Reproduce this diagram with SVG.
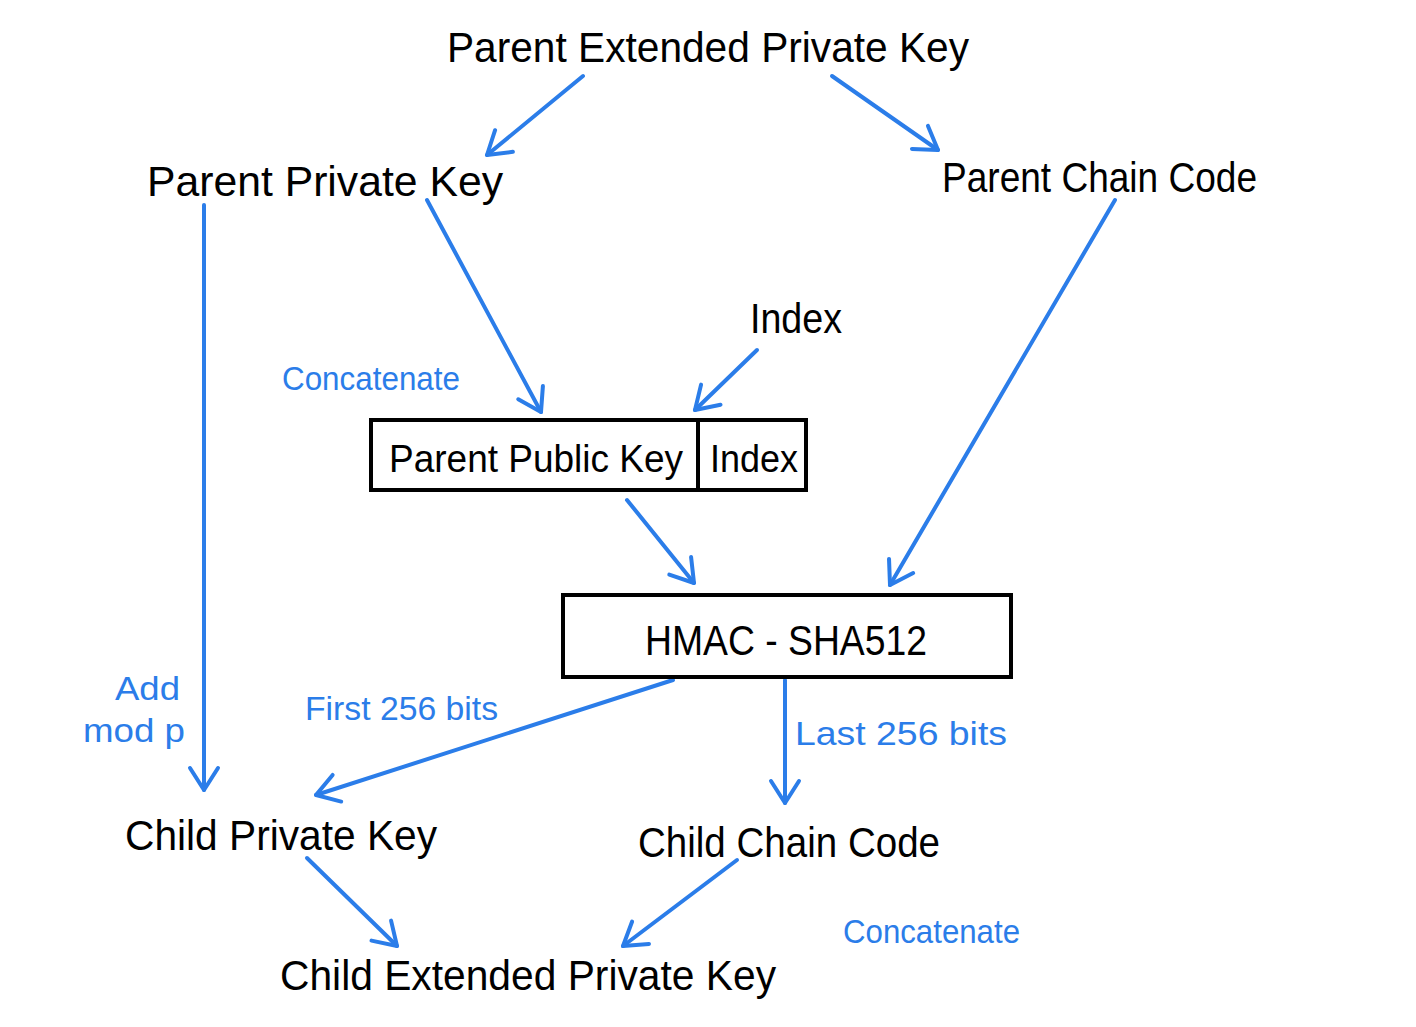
<svg xmlns="http://www.w3.org/2000/svg" width="1416" height="1027" viewBox="0 0 1416 1027">
<defs>
<style>
.t{font-family:"Liberation Sans","DejaVu Sans",sans-serif;fill:#000;font-size:42px}
.bx{font-family:"Liberation Sans","DejaVu Sans",sans-serif;fill:#000;font-size:38px}
.b{font-family:"Liberation Sans","DejaVu Sans",sans-serif;fill:#2b7de9;font-size:34px}
.box{fill:#fff;stroke:#000;stroke-width:4}
.c{stroke:#2b7de9;stroke-width:4;fill:none;stroke-linecap:round}
</style>
<marker id="ah" markerUnits="userSpaceOnUse" markerWidth="40" markerHeight="40" viewBox="-30 -20 40 40" refX="0" refY="0" orient="auto">
<path d="M-22,-14 L0,0 L-22,14" fill="none" stroke="#2b7de9" stroke-width="4" stroke-linecap="round" stroke-linejoin="round"/>
</marker>
</defs>
<rect width="1416" height="1027" fill="#fff"/>
<g id="connectors">
<line class="c" x1="583" y1="76" x2="487" y2="155" marker-end="url(#ah)"/>
<line class="c" x1="832" y1="76" x2="938" y2="150" marker-end="url(#ah)"/>
<line class="c" x1="204" y1="205" x2="204" y2="790" marker-end="url(#ah)"/>
<line class="c" x1="427" y1="200" x2="541" y2="412" marker-end="url(#ah)"/>
<line class="c" x1="757" y1="350" x2="695" y2="410" marker-end="url(#ah)"/>
<line class="c" x1="1115" y1="200" x2="890" y2="585" marker-end="url(#ah)"/>
<line class="c" x1="627" y1="500" x2="694" y2="583" marker-end="url(#ah)"/>
<line class="c" x1="673" y1="680" x2="316" y2="795" marker-end="url(#ah)"/>
<line class="c" x1="785" y1="680" x2="785" y2="803" marker-end="url(#ah)"/>
<line class="c" x1="307" y1="858" x2="397" y2="946" marker-end="url(#ah)"/>
<line class="c" x1="737" y1="860" x2="623" y2="946" marker-end="url(#ah)"/>
</g>
<g id="parent-extended-private-key"><text class="t" x="447" y="62" textLength="522" lengthAdjust="spacingAndGlyphs">Parent Extended Private Key</text></g>
<g id="parent-private-key"><text class="t" x="147" y="196" textLength="356" lengthAdjust="spacingAndGlyphs">Parent Private Key</text></g>
<g id="parent-chain-code"><text class="t" x="942" y="192" textLength="315" lengthAdjust="spacingAndGlyphs">Parent Chain Code</text></g>
<g id="index"><text class="t" x="750" y="333" textLength="92" lengthAdjust="spacingAndGlyphs">Index</text></g>
<g id="label-concatenate-1"><text class="b" x="282" y="390" textLength="178" lengthAdjust="spacingAndGlyphs">Concatenate</text></g>
<g id="concat-box">
<rect class="box" x="371" y="420" width="435" height="70"/>
<line x1="698" y1="420" x2="698" y2="490" stroke="#000" stroke-width="4"/>
<text class="bx" x="389" y="472" textLength="294" lengthAdjust="spacingAndGlyphs">Parent Public Key</text>
<text class="bx" x="710" y="472" textLength="88" lengthAdjust="spacingAndGlyphs">Index</text>
</g>
<g id="hmac-sha512">
<rect class="box" x="563" y="595" width="448" height="82"/>
<text class="t" x="645" y="655" textLength="282" lengthAdjust="spacingAndGlyphs">HMAC - SHA512</text>
</g>
<g id="label-add-mod-p">
<text class="b" x="115" y="700" textLength="65" lengthAdjust="spacingAndGlyphs">Add</text>
<text class="b" x="83" y="742" textLength="102" lengthAdjust="spacingAndGlyphs">mod p</text>
</g>
<g id="label-first"><text class="b" x="305" y="720" textLength="193" lengthAdjust="spacingAndGlyphs">First 256 bits</text></g>
<g id="label-last"><text class="b" x="795" y="745" textLength="212" lengthAdjust="spacingAndGlyphs">Last 256 bits</text></g>
<g id="child-private-key"><text class="t" x="125" y="850" textLength="312" lengthAdjust="spacingAndGlyphs">Child Private Key</text></g>
<g id="child-chain-code"><text class="t" x="638" y="857" textLength="302" lengthAdjust="spacingAndGlyphs">Child Chain Code</text></g>
<g id="label-concatenate-2"><text class="b" x="843" y="943" textLength="177" lengthAdjust="spacingAndGlyphs">Concatenate</text></g>
<g id="child-extended-private-key"><text class="t" x="280" y="990" textLength="496" lengthAdjust="spacingAndGlyphs">Child Extended Private Key</text></g>
</svg>
